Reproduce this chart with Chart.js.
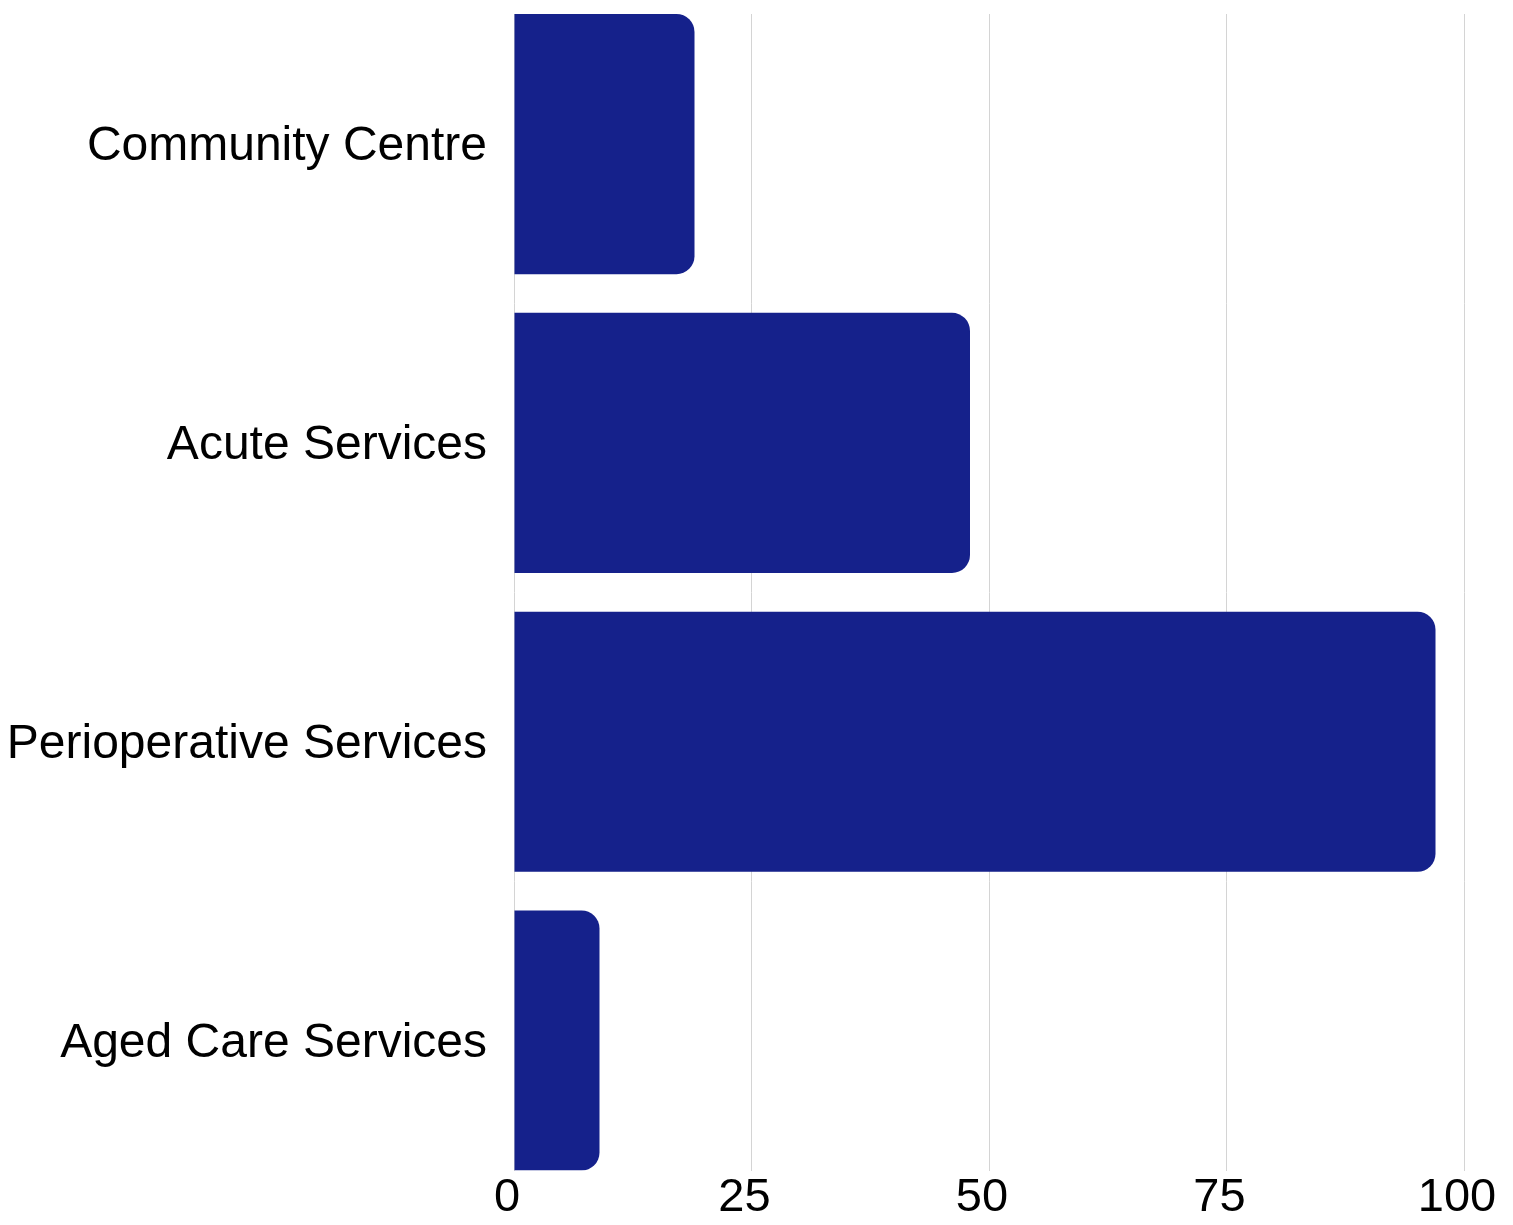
<!DOCTYPE html>
<html lang="en">
<head>
    <meta charset="UTF-8">
    <title>Services Bar Chart</title>
    <script src="https://cdn.jsdelivr.net/npm/chart.js"></script>
    <style>
        html, body { margin: 0; padding: 0; background: #fff; }
        #wrap { width: 1513px; height: 1225px; position: relative; }
    </style>
</head>
<body>
    <div id="wrap">
        <canvas id="barChart"></canvas>
    </div>

    <script>
        // chart data
        const categories = ['Community Centre', 'Acute Services', 'Perioperative Services', 'Aged Care Services'];
        const values = [19, 48, 97, 9];
        const xTicks = [0, 25, 50, 75, 100];

        const barColor = '#15218b';
        const fontFamily = "'Liberation Sans', Arial, sans-serif";

        // bars fill the plot height edge to edge, so the index axis is linear
        const barPct = 0.8705;
        const edge = barPct / 2;

        const ctx = document.getElementById('barChart').getContext('2d');
        const chart = new Chart(ctx, {
            type: 'bar',
            data: {
                datasets: [{
                    data: categories.map((c, i) => ({ x: values[i], y: i })),
                    backgroundColor: barColor,
                    borderRadius: { topRight: 18, bottomRight: 18 },
                    borderSkipped: false,
                    barPercentage: barPct,
                    categoryPercentage: 1
                }]
            },
            options: {
                indexAxis: 'y',
                responsive: true,
                maintainAspectRatio: false,
                animation: false,
                layout: {
                    padding: { top: 14, right: 49, bottom: 0, left: 8 }
                },
                plugins: {
                    legend: { display: false },
                    tooltip: { enabled: false }
                },
                scales: {
                    x: {
                        type: 'linear',
                        min: xTicks[0],
                        max: xTicks[xTicks.length - 1],
                        afterBuildTicks: (scale) => { scale.ticks = xTicks.map(v => ({ value: v })); },
                        grid: { color: '#d4d4d4', lineWidth: 1, drawTicks: false },
                        border: { display: false },
                        ticks: {
                            color: '#000',
                            font: { family: fontFamily, size: 47 },
                            padding: -1,
                            labelOffset: -7,
                            maxRotation: 0
                        }
                    },
                    y: {
                        type: 'linear',
                        reverse: true,
                        offset: false,
                        bounds: 'data',
                        grace: 0,
                        min: -edge,
                        max: categories.length - 1 + edge,
                        afterBuildTicks: (scale) => { scale.ticks = categories.map((c, i) => ({ value: i })); },
                        afterFit: (scale) => {
                            scale.width = 506;
                            scale.paddingTop = 0;
                            scale.paddingBottom = 0;
                        },
                        grid: { display: false, drawTicks: false },
                        border: { display: false },
                        ticks: {
                            color: '#000',
                            font: { family: fontFamily, size: 48 },
                            padding: 27,
                            labelOffset: 3,
                            callback: (v) => categories[v]
                        }
                    }
                }
            }
        });
    </script>
</body>
</html>
